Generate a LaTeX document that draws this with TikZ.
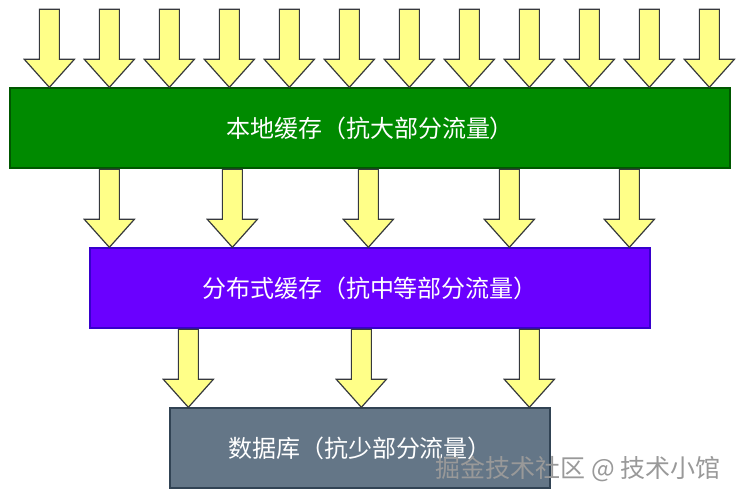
\documentclass[tikz,border=0pt]{standalone}
\usepackage{fontspec}
\setmainfont{Noto Sans CJK SC}
\usetikzlibrary{calc}

\definecolor{localfill}{HTML}{008A00}
\definecolor{localline}{HTML}{005700}
\definecolor{distfill}{HTML}{6A00FF}
\definecolor{distline}{HTML}{3700CC}
\definecolor{dbfill}{HTML}{647687}
\definecolor{dbline}{HTML}{314354}
\definecolor{arrowfill}{HTML}{FFFF88}
\definecolor{arrowline}{HTML}{36393D}

\tikzset{
  layer/.style={draw, line width=1.3pt, minimum height=80pt, inner sep=0pt,
    text=white, font=\fontsize{24}{28}\selectfont},
  flow/.style={draw=arrowline, fill=arrowfill, line width=1.2pt},
  blockarrow/.pic={
    \draw[flow] (-10,-78) -- (10,-78) -- (10,-28) -- (25,-28) -- (0,0)
      -- (-25,-28) -- (-10,-28) -- cycle;
  },
}

\begin{document}
\begin{tikzpicture}[x=1pt,y=-1pt]
  \useasboundingbox (0,0) rectangle (740,502);

  % the three layers
  \node[layer, fill=localfill, draw=localline, minimum width=720pt] (local) at (370,128) {本地缓存（抗大部分流量）};
  \node[layer, fill=distfill, draw=distline, minimum width=560pt] (dist) at (370,288) {分布式缓存（抗中等部分流量）};
  \node[layer, fill=dbfill, draw=dbline, minimum width=380pt] (db) at (360,448) {数据库（抗少部分流量）};

  % incoming traffic
  \foreach \x in {40,100,...,700}
    \pic at ($(local.north west)+(\x,0)$) {blockarrow};
  % local cache -> distributed cache
  \foreach \x in {20,143,279,420,540}
    \pic at ($(dist.north west)+(\x,0)$) {blockarrow};
  % distributed cache -> database
  \foreach \x in {19,192,360}
    \pic at ($(db.north west)+(\x,0)$) {blockarrow};

  \node[text=gray!80, font=\fontsize{25}{29}\selectfont] (mark) at (578,469) {掘金技术社区 @ 技术小馆};
\end{tikzpicture}
\end{document}
